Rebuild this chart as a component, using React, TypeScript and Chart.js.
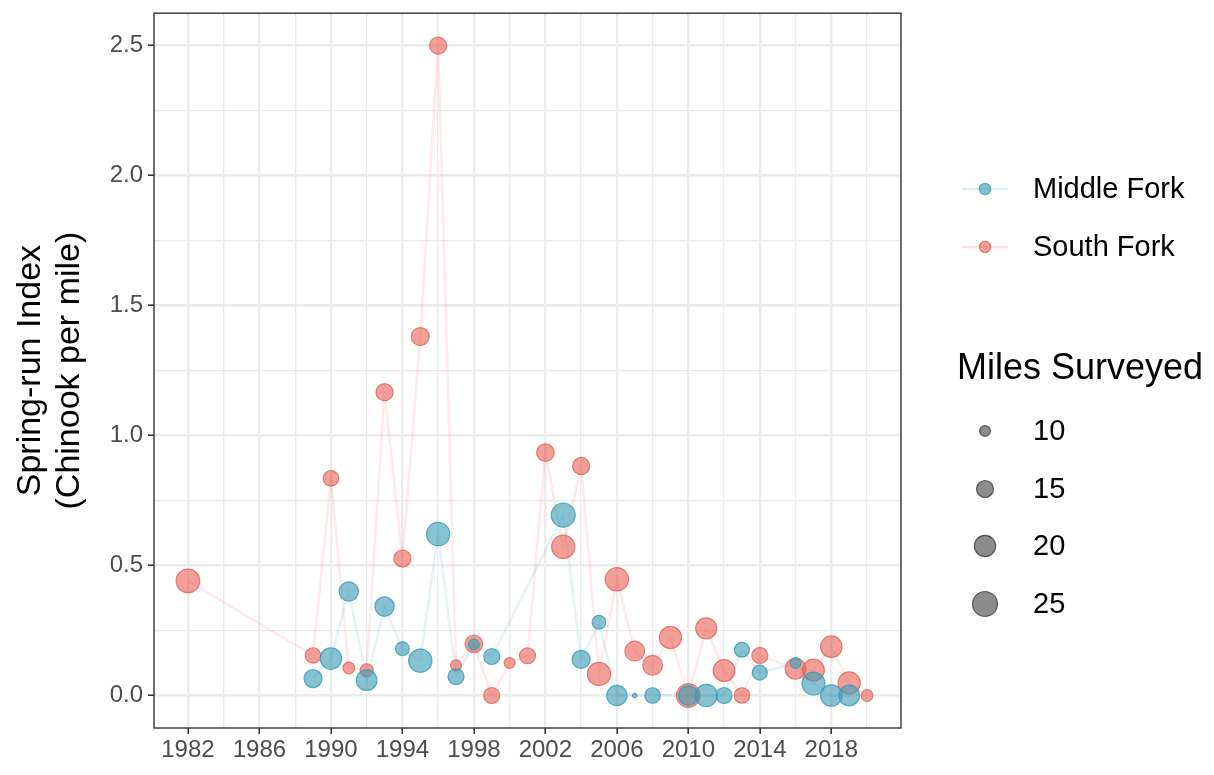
import { useEffect, useRef } from "react";
import { Chart, registerables } from "chart.js";

Chart.register(...registerables);

// South Fork survey results
const southYears = [1982, 1989, 1990, 1991, 1992, 1993, 1994, 1995, 1996, 1997, 1998, 1999, 2000, 2001, 2002, 2003, 2004, 2005, 2006, 2007, 2008, 2009, 2010, 2011, 2012, 2013, 2014, 2016, 2017, 2018, 2019, 2020];
const southIndex = [0.441, 0.154, 0.835, 0.106, 0.097, 1.167, 0.527, 1.381, 2.5, 0.116, 0.199, 0.0, 0.125, 0.153, 0.934, 0.572, 0.883, 0.083, 0.447, 0.171, 0.116, 0.223, 0.0, 0.258, 0.096, 0.0, 0.154, 0.103, 0.098, 0.188, 0.048, 0.0];
const southMiles = [23, 13.5, 13.5, 10.5, 11.5, 15, 15, 16, 15, 10, 15.5, 14, 10, 14, 15.5, 22.5, 15, 22.5, 22.5, 18, 18, 21, 23, 19.5, 20.5, 13.5, 14, 19, 20.5, 20, 21, 10.5];

// Middle Fork survey results
const middleYears = [1989, 1990, 1991, 1992, 1993, 1994, 1995, 1996, 1997, 1998, 1999, 2003, 2004, 2005, 2006, 2007, 2008, 2010, 2011, 2012, 2013, 2014, 2016, 2017, 2018, 2019];
const middleIndex = [0.065, 0.142, 0.4, 0.059, 0.342, 0.18, 0.134, 0.621, 0.073, 0.196, 0.15, 0.694, 0.139, 0.282, 0.0, 0.0, 0.0, 0.0, 0.0, 0.0, 0.176, 0.088, 0.125, 0.046, 0.0, 0.0];
const middleMiles = [16, 20, 17.5, 19, 17.5, 12, 22.5, 22.5, 14, 10, 14, 23.5, 16, 12, 18.5, 7.3, 13.5, 18, 21, 14, 13, 13, 10, 22, 20, 19];

// Axis breaks
const xGridYears = [1982, 1984, 1986, 1988, 1990, 1992, 1994, 1996, 1998, 2000, 2002, 2004, 2006, 2008, 2010, 2012, 2014, 2016, 2018, 2020];
const xLabelYears = [1982, 1986, 1990, 1994, 1998, 2002, 2006, 2010, 2014, 2018];
const yGridValues = [0, 0.25, 0.5, 0.75, 1.0, 1.25, 1.5, 1.75, 2.0, 2.25, 2.5];
const yLabelValues = [0, 0.5, 1.0, 1.5, 2.0, 2.5];
const sizeLegendMiles = [10, 15, 20, 25];

const FONT = "'Liberation Sans', Arial, Helvetica, sans-serif";
const BLUE = "62,156,183";
const RED = "232,101,90";

// area-style size scale: miles surveyed -> point radius (px)
function radiusFor(miles: number): number {
  return 0.6 + 2.8 * Math.sqrt(Math.max(0, miles - 7));
}

const isMajorX = (v: number) => xLabelYears.includes(v);
const isMajorY = (v: number) => yLabelValues.some((m) => Math.abs(m - v) < 1e-9);

const panelPlugin = {
  id: "panelDecor",
  beforeDraw(chart: any) {
    const { ctx, width, height } = chart;
    ctx.save();
    ctx.fillStyle = "#ffffff";
    ctx.fillRect(0, 0, width, height);
    ctx.restore();
  },
  afterDraw(chart: any) {
    const { ctx, chartArea } = chart;
    const { left, right, top, bottom } = chartArea;
    ctx.save();
    // panel border
    ctx.strokeStyle = "#333333";
    ctx.lineWidth = 1.4;
    ctx.strokeRect(left, top, right - left, bottom - top);

    // y axis title
    ctx.fillStyle = "#000000";
    ctx.font = `34px ${FONT}`;
    ctx.textAlign = "center";
    ctx.textBaseline = "middle";
    const yMid = (top + bottom) / 2;
    ctx.save();
    ctx.translate(31, yMid);
    ctx.rotate(-Math.PI / 2);
    ctx.fillText("Spring-run Index", 0, 0);
    ctx.restore();
    ctx.save();
    ctx.translate(70, yMid);
    ctx.rotate(-Math.PI / 2);
    ctx.fillText("(Chinook per mile)", 0, 0);
    ctx.restore();

    // colour legend
    const keyX = 985;
    const textX = 1033;
    const series: [string, string, number][] = [
      ["Middle Fork", BLUE, 189],
      ["South Fork", RED, 247],
    ];
    ctx.textAlign = "left";
    ctx.font = `29px ${FONT}`;
    for (const [name, rgb, y] of series) {
      ctx.strokeStyle = `rgba(${rgb},0.18)`;
      ctx.lineWidth = 2.5;
      ctx.beginPath();
      ctx.moveTo(962, y);
      ctx.lineTo(1008, y);
      ctx.stroke();
      ctx.beginPath();
      ctx.arc(keyX, y, 5.6, 0, Math.PI * 2);
      ctx.fillStyle = `rgba(${rgb},0.62)`;
      ctx.fill();
      ctx.strokeStyle = `rgba(${rgb},0.85)`;
      ctx.lineWidth = 1.2;
      ctx.stroke();
      ctx.fillStyle = "#000000";
      ctx.fillText(name, textX, y + 1);
    }

    // size legend
    ctx.font = `36px ${FONT}`;
    ctx.fillStyle = "#000000";
    ctx.fillText("Miles Surveyed", 957, 369);
    ctx.font = `29px ${FONT}`;
    const sizeYs = [431, 489, 546, 604];
    sizeLegendMiles.forEach((m, i) => {
      const y = sizeYs[i];
      ctx.beginPath();
      ctx.arc(keyX, y, radiusFor(m), 0, Math.PI * 2);
      ctx.fillStyle = "rgba(0,0,0,0.45)";
      ctx.fill();
      ctx.strokeStyle = "rgba(0,0,0,0.55)";
      ctx.lineWidth = 1.2;
      ctx.stroke();
      ctx.fillStyle = "#000000";
      ctx.fillText(String(m), textX, y + 1);
    });
    ctx.restore();
  },
};

export default function App() {
  const canvasRef = useRef<HTMLCanvasElement | null>(null);

  useEffect(() => {
    const canvas = canvasRef.current;
    if (!canvas) return;

    const middlePts = middleYears.map((x, i) => ({ x, y: middleIndex[i] }));
    const southPts = southYears.map((x, i) => ({ x, y: southIndex[i] }));

    const chart = new Chart(canvas, {
      type: "scatter",
      data: {
        datasets: [
          {
            label: "Middle Fork",
            data: middlePts,
            showLine: false,
            pointRadius: middleMiles.map(radiusFor),
            pointBackgroundColor: `rgba(${BLUE},0.62)`,
            pointBorderColor: `rgba(${BLUE},0.85)`,
            pointBorderWidth: 1.2,
            order: 0,
          },
          {
            label: "South Fork",
            data: southPts,
            showLine: false,
            pointRadius: southMiles.map(radiusFor),
            pointBackgroundColor: `rgba(${RED},0.62)`,
            pointBorderColor: `rgba(${RED},0.85)`,
            pointBorderWidth: 1.2,
            order: 1,
          },
          {
            label: "Middle Fork line",
            data: middlePts,
            showLine: true,
            pointRadius: 0,
            borderColor: `rgba(${BLUE},0.13)`,
            borderWidth: 2.5,
            order: 2,
          },
          {
            label: "South Fork line",
            data: southPts,
            showLine: true,
            pointRadius: 0,
            borderColor: `rgba(${RED},0.13)`,
            borderWidth: 2.5,
            order: 3,
          },
        ],
      } as any,
      options: {
        animation: false,
        responsive: false,
        maintainAspectRatio: false,
        layout: { padding: { top: 12, right: 313, left: 0, bottom: 0 } },
        plugins: {
          legend: { display: false },
          tooltip: { enabled: false },
        },
        scales: {
          x: {
            type: "linear",
            min: 1980.1,
            max: 2021.9,
            afterBuildTicks: (scale: any) => {
              scale.ticks = xGridYears.map((v) => ({ value: v }));
            },
            afterFit: (scale: any) => {
              scale.height = 47;
              scale.paddingLeft = 0;
              scale.paddingRight = 0;
            },
            ticks: {
              autoSkip: false,
              maxRotation: 0,
              minRotation: 0,
              padding: 2,
              color: "#4d4d4d",
              font: { size: 24, family: FONT },
              callback: (v: any) => (isMajorX(Number(v)) ? String(v) : ""),
            },
            grid: {
              color: "#ebebeb",
              lineWidth: (ctx: any) => (ctx.tick && isMajorX(ctx.tick.value) ? 2.4 : 1.3),
              tickColor: (ctx: any) => (ctx.tick && isMajorX(ctx.tick.value) ? "#333333" : "rgba(0,0,0,0)"),
              tickWidth: 1.6,
              tickLength: 6,
            },
            border: { display: false },
          },
          y: {
            type: "linear",
            min: -0.125,
            max: 2.625,
            afterBuildTicks: (scale: any) => {
              scale.ticks = yGridValues.map((v) => ({ value: v }));
            },
            afterFit: (scale: any) => {
              scale.width = 154;
              scale.paddingTop = 0;
              scale.paddingBottom = 0;
            },
            ticks: {
              autoSkip: false,
              padding: 5,
              color: "#4d4d4d",
              font: { size: 24, family: FONT },
              callback: (v: any) => (isMajorY(Number(v)) ? Number(v).toFixed(1) : ""),
            },
            grid: {
              color: "#ebebeb",
              lineWidth: (ctx: any) => (ctx.tick && isMajorY(ctx.tick.value) ? 2.4 : 1.3),
              tickColor: (ctx: any) => (ctx.tick && isMajorY(ctx.tick.value) ? "#333333" : "rgba(0,0,0,0)"),
              tickWidth: 1.6,
              tickLength: 6,
            },
            border: { display: false },
          },
        },
      } as any,
      plugins: [panelPlugin],
    });

    return () => chart.destroy();
  }, []);

  return (
    <div style={{ position: "absolute", left: 0, top: 0, width: 1214, height: 775, background: "#ffffff" }}>
      <canvas ref={canvasRef} width={1214} height={775} style={{ display: "block" }} />
    </div>
  );
}
